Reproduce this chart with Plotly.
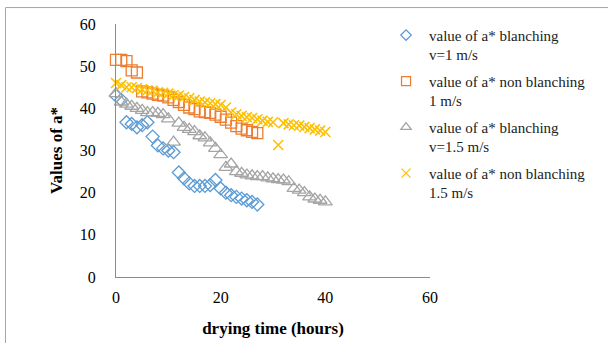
import plotly.graph_objects as go

# ---- data ----
x_blue = list(range(0, 28))
y_blue = [43, 42, 36.7, 36.3, 35.5, 36, 36.7, 33.3, 31.2, 30.5, 30, 29.6, 24.8, 23.4,
          22.2, 21.6, 21.6, 21.6, 21.8, 23, 21, 20, 19.4, 19, 18.6, 18.2, 17.8, 17.2]

x_orange = list(range(0, 28))
y_orange = [51.5, 51.5, 51.2, 49, 48.5, 44, 43.8, 43.5, 43.2, 43, 42.6, 42, 41.5, 40.8,
            40.2, 39.8, 39.3, 39.1, 38.9, 38.5, 38, 37.3, 36.6, 35.8, 35.2, 34.8, 34.4, 34.1]

x_gray = list(range(0, 41))
y_gray = [43.5, 41.5, 41, 40.5, 40, 39.5, 39, 39, 38.8, 38.5, 37.5, 32, 36.5, 35.5, 35,
          34.5, 33.5, 33, 31.8, 30.5, 29, 26, 26.8, 25, 24.6, 24.2, 24, 23.8, 23.8, 23.5,
          23.3, 23.1, 23, 22.6, 21, 20.6, 20, 19, 18.5, 18.2, 17.8]

x_yellow = list(range(0, 41))
y_yellow = [46, 45.5, 45, 45, 44.8, 44.5, 44.3, 44.2, 43.8, 43.7, 43.5, 43.1, 43, 42.7,
            42.4, 42, 41.6, 41.4, 41.2, 41, 40.8, 40.2, 39, 38.6, 38.2, 37.9, 37.7, 37.4,
            37.1, 36.8, 36.7, 31.3, 36.5, 36.2, 36, 35.9, 35.6, 35.3, 35, 34.7, 34.4]

names = ["value of a* blanching<br>v=1 m/s",
         "value of a* non blanching<br>1 m/s",
         "value of a* blanching<br>v=1.5 m/s",
         "value of a* non blanching<br>1.5 m/s"]

x_ticks = [0, 20, 40, 60]
y_ticks = [0, 10, 20, 30, 40, 50, 60]

FONT = "Liberation Serif"

fig = go.Figure()
series = [
    (x_blue, y_blue, "#5B9BD5", "diamond-open", 10, 1.3, 8),
    (x_orange, y_orange, "#ED7D31", "square-open", 11, 1.3, 9),
    (x_gray, y_gray, "#A5A5A5", "triangle-up-open", 12, 1.3, 9),
    (x_yellow, y_yellow, "#FFC000", "x-thin-open", 10, 1.6, 9),
]
for i, (xs, ys, col, sym, sz, lw, lsz) in enumerate(series):
    fig.add_trace(go.Scatter(
        x=xs, y=ys, mode="markers", name=names[i], cliponaxis=False,
        showlegend=False, legendgroup=str(i),
        marker=dict(symbol=sym, size=sz, color=col, line=dict(color=col, width=lw)),
    ))
    # legend entry with the smaller legend symbol
    fig.add_trace(go.Scatter(
        x=[None], y=[None], mode="markers", name=names[i],
        showlegend=True, legendgroup=str(i),
        marker=dict(symbol=sym, size=lsz, color=col, line=dict(color=col, width=1.3)),
    ))

fig.update_layout(
    width=608, height=343,
    margin=dict(l=116, r=178, t=24, b=66, autoexpand=False),
    paper_bgcolor="white", plot_bgcolor="white",
    font=dict(family=FONT, size=15, color="black"),
    showlegend=True,
    legend=dict(
        xref="container", yref="container",
        x=0.63, y=0.945, xanchor="left", yanchor="top",
        font=dict(family=FONT, size=15, color="#222"),
        valign="top", itemsizing="trace", maxheight=340, itemwidth=36,
        tracegroupgap=4, bgcolor="rgba(0,0,0,0)",
    ),
    xaxis=dict(
        range=[0, 60], tickvals=x_ticks, showgrid=False, zeroline=False,
        showline=True, linecolor="#8c8c8c", linewidth=1, ticks="",
        tickfont=dict(family=FONT, size=16), ticklabelstandoff=6,
        title=dict(text="<b>drying time (hours)</b>", font=dict(family=FONT, size=17), standoff=16),
    ),
    yaxis=dict(
        range=[0, 60], tickvals=y_ticks, showgrid=False, zeroline=False,
        showline=True, linecolor="#8c8c8c", linewidth=1, ticks="",
        tickfont=dict(family=FONT, size=16), ticklabelstandoff=16,
        title=dict(text="<b>Values of a*</b>", font=dict(family=FONT, size=17), standoff=12),
    ),
    shapes=[dict(type="rect", xref="paper", yref="paper",
                 x0=-0.352, x1=1.7, y0=-0.4, y1=1.065,
                 line=dict(color="#a6a6a6", width=1), layer="below")],
)

fig.write_html("out.html", config={"displayModeBar": False},
               post_script="document.body.style.margin='0';")
